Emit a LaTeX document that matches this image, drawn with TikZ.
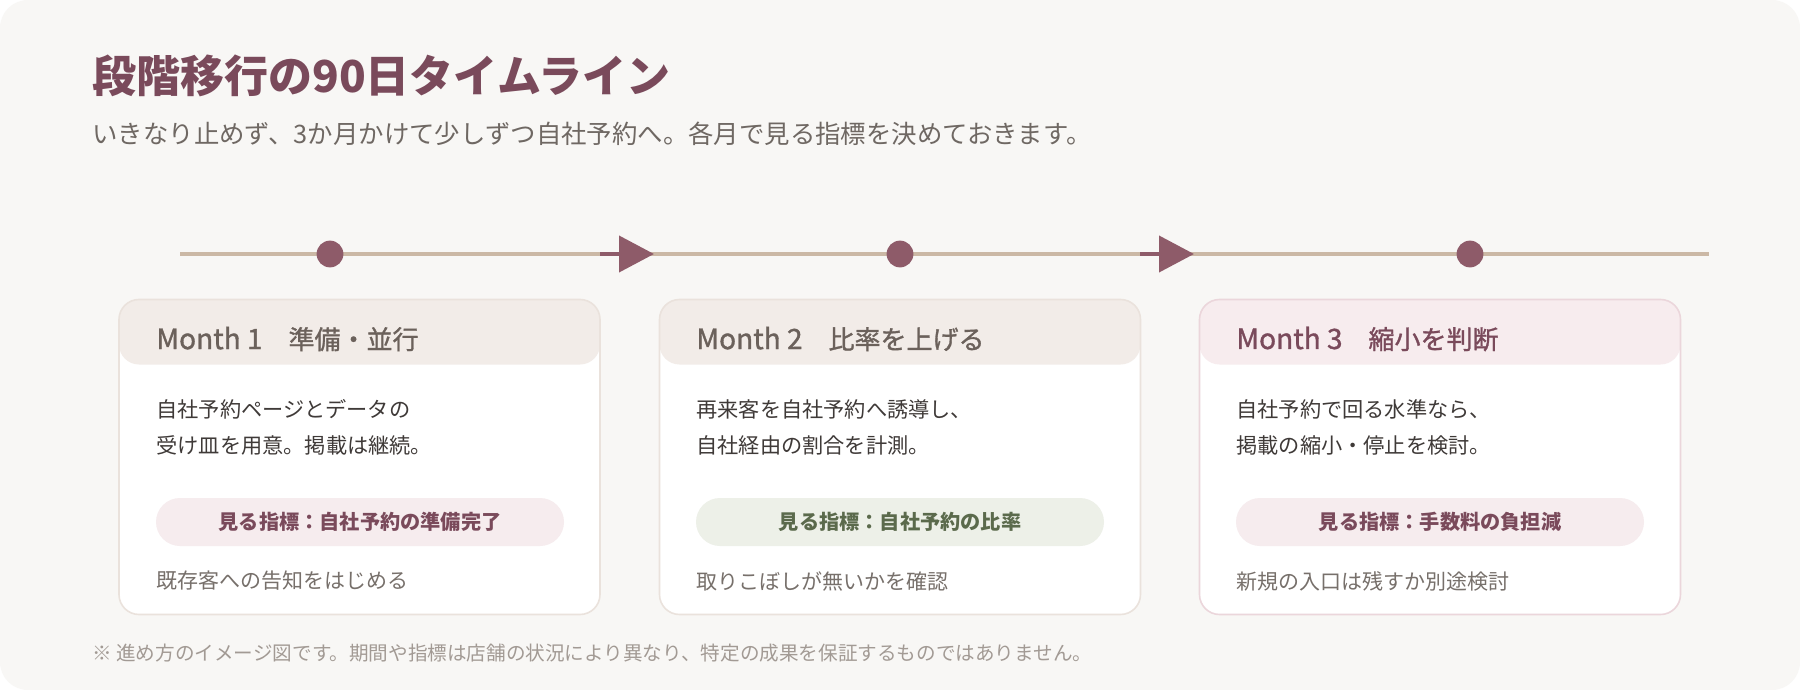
\documentclass[tikz,border=0pt]{standalone}
\usepackage{fontspec}
\setmainfont{Noto Sans CJK JP}
\newfontfamily\medfont{Noto Sans CJK JP}[FakeBold=1.2]
\usetikzlibrary{arrows.meta}
\definecolor{bgc}{HTML}{F8F7F5}
\definecolor{tlc}{HTML}{CBB8A5}
\definecolor{acc}{HTML}{8E5B69}
\definecolor{cbord}{HTML}{EAE2DC}
\definecolor{chead}{HTML}{F2ECE8}
\definecolor{pbord}{HTML}{EBD6DB}
\definecolor{phead}{HTML}{F7ECEE}
\definecolor{titlec}{HTML}{7A4A5B}
\definecolor{subc}{HTML}{6F6863}
\definecolor{headc}{HTML}{6B615B}
\definecolor{bodyc}{HTML}{3F3A38}
\definecolor{pillpink}{HTML}{F6ECEE}
\definecolor{pillgreen}{HTML}{EDF0E8}
\definecolor{greentext}{HTML}{5B6A4C}
\definecolor{footc}{HTML}{77706B}
\definecolor{notec}{HTML}{A29A94}
\newcommand{\monthhead}[2]{{\fontsize{14}{15}\selectfont #1}{\fontsize{13}{15}\selectfont　#2}}
\tikzset{
  tline/.style={draw=tlc, line width=2pt},
  dotnode/.style={circle, fill=acc, minimum size=13.4pt, inner sep=0pt},
  arrowlink/.style={draw=acc, line width=2pt, -{Triangle[length=17.5pt,width=18pt]}},
  card/.style 2 args={rectangle, rounded corners=10pt, fill=white,
    minimum width=240.5pt, minimum height=157.5pt, inner sep=0pt,
    path picture={\fill[#2] (path picture bounding box.north west) rectangle ([yshift=-32.5pt]path picture bounding box.north east);},
    postaction={draw=#1, line width=0.8pt}},
  headtext/.style={anchor=west, inner sep=0pt, font=\medfont, text=#1},
  bodytext/.style={anchor=west, inner sep=0pt, align=left, font=\fontsize{10.6}{17.8}\selectfont, text=bodyc},
  pill/.style 2 args={rectangle, rounded corners=12pt, fill=#1, minimum width=204pt, minimum height=24pt,
    inner sep=0pt, text=#2, font=\fontsize{10.1}{12}\selectfont\bfseries},
  foottext/.style={anchor=west, inner sep=0pt, font=\fontsize{10.5}{12}\selectfont, text=footc},
}
\begin{document}
\begin{tikzpicture}[x=0.5pt,y=-0.5pt]
\useasboundingbox (0,0) rectangle (1800,690);
\fill[white] (0,0) rectangle (1800,690);
\fill[bgc, rounded corners=14pt] (0,0) rectangle (1800,690);

% title
\node[anchor=west, inner sep=0pt, font=\fontsize{22}{26}\selectfont\bfseries, text=titlec] (title) at (92,76) {段階移行の90日タイムライン};
\node[anchor=west, inner sep=0pt, font=\fontsize{12.7}{15}\selectfont, text=subc] (subtitle) at (92,134) {いきなり止めず、3か月かけて少しずつ自社予約へ。各月で見る指標を決めておきます。};

% timeline
\coordinate (ts) at (180,254);
\coordinate (te) at (1709,254);
\draw[tline] (ts) -- (te);
\node[dotnode] (d1) at (330,254) {};
\node[dotnode] (d2) at (900,254) {};
\node[dotnode] (d3) at (1470,254) {};
\coordinate (a1s) at (600,254);
\coordinate (a1e) at (654,254);
\coordinate (a2s) at (1140,254);
\coordinate (a2e) at (1194,254);
\draw[arrowlink] (a1s) -- (a1e);
\draw[arrowlink] (a2s) -- (a2e);

% cards
\node[card={cbord}{chead}] (c1) at (359.5,457) {};
\node[card={cbord}{chead}] (c2) at (900,457) {};
\node[card={pbord}{phead}] (c3) at (1440,457) {};

% card 1
\node[headtext=headc] (h1) at (156,339) {\monthhead{Month 1}{準備・並行}};
\node[bodytext] (b1) at (156,427.5) {自社予約ページとデータの\\受け皿を用意。掲載は継続。};
\node[pill={pillpink}{titlec}] (p1) at (360,522) {見る指標：自社予約の準備完了};
\node[foottext] (f1) at (156,581) {既存客への告知をはじめる};

% card 2
\node[headtext=headc] (h2) at (696,339) {\monthhead{Month 2}{比率を上げる}};
\node[bodytext] (b2) at (696,427.5) {再来客を自社予約へ誘導し、\\自社経由の割合を計測。};
\node[pill={pillgreen}{greentext}] (p2) at (900,522) {見る指標：自社予約の比率};
\node[foottext] (f2) at (696,581) {取りこぼしが無いかを確認};

% card 3
\node[headtext=titlec] (h3) at (1236,339) {\monthhead{Month 3}{縮小を判断}};
\node[bodytext] (b3) at (1236,427.5) {自社予約で回る水準なら、\\掲載の縮小・停止を検討。};
\node[pill={pillpink}{titlec}] (p3) at (1440,522) {見る指標：手数料の負担減};
\node[foottext] (f3) at (1236,581) {新規の入口は残すか別途検討};

% footnote
\node[anchor=west, inner sep=0pt, font=\fontsize{9.8}{12}\selectfont, text=notec] (note) at (92,653) {※ 進め方のイメージ図です。期間や指標は店舗の状況により異なり、特定の成果を保証するものではありません。};
\end{tikzpicture}
\end{document}
